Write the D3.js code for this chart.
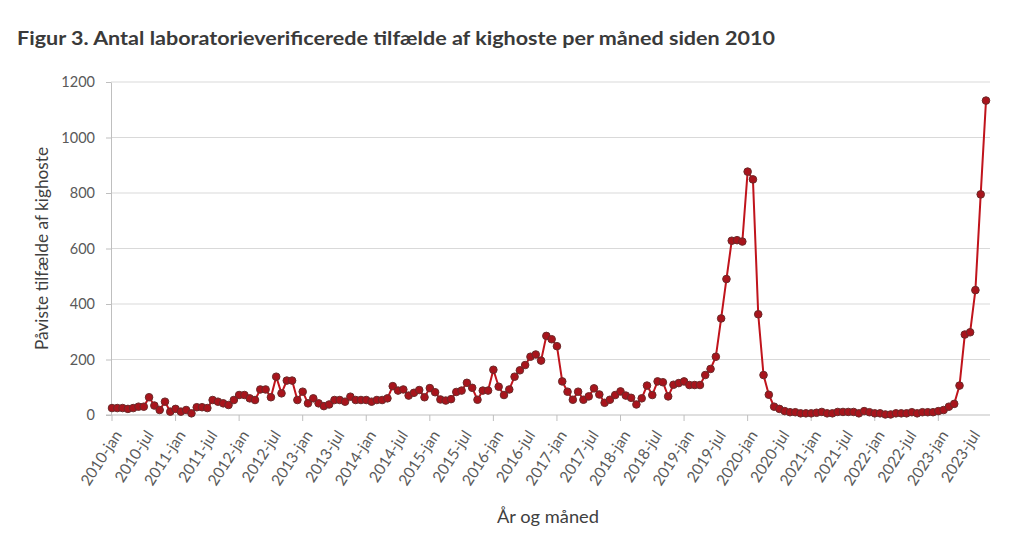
<!DOCTYPE html>
<html>
<head>
<meta charset="utf-8">
<script src="https://cdn.jsdelivr.net/npm/d3@7"></script>
<style>
  body { margin: 0; background: #fff; }
  svg text { font-family: Lato, "Open Sans", sans-serif; fill: #404040; }
</style>
</head>
<body>
<svg id="chart" width="1020" height="543"></svg>
<script>
// monthly counts, 2010-jan .. 2023-oct
const years = d3.range(2010, 2024);
const monthNames = ["jan","feb","mar","apr","maj","jun","jul","aug","sep","okt","nov","dec"];
const cases = [
  25, 25, 25, 22, 25, 30, 30, 64, 34, 18, 48, 12,        // 2010
  22, 12, 18, 6, 28, 28, 25, 54, 48, 42, 36, 54,         // 2011
  72, 72, 60, 54, 92, 92, 64, 138, 78, 124, 124, 54,     // 2012
  84, 42, 60, 42, 32, 38, 54, 54, 48, 66, 54, 54,        // 2013
  54, 48, 54, 54, 60, 104, 88, 92, 70, 80, 90, 64,       // 2014
  97, 82, 56, 52, 57, 83, 88, 116, 98, 55, 88, 88,       // 2015
  163, 102, 72, 92, 138, 161, 180, 210, 218, 196, 285, 273, // 2016
  248, 121, 84, 55, 84, 55, 67, 96, 74, 44, 55, 72,      // 2017
  85, 70, 62, 38, 60, 106, 72, 121, 118, 67, 109, 115,   // 2018
  121, 108, 108, 108, 144, 166, 210, 348, 490, 628, 630, 625, // 2019
  877, 849, 363, 144, 73, 30, 22, 14, 10, 10, 6, 6,      // 2020
  6, 8, 11, 6, 6, 11, 11, 11, 11, 6, 14, 10,             // 2021
  6, 6, 2, 2, 6, 6, 6, 10, 6, 10, 10, 10,                // 2022
  14, 18, 30, 40, 106, 290, 298, 450, 795, 1133          // 2023
];
const yTicks = [0, 200, 400, 600, 800, 1000, 1200];

const months = [];
years.forEach(y => monthNames.forEach(m => months.push(`${y}-${m}`)));
const data = cases.map((v, i) => ({ month: months[i], value: v }));

const svg = d3.select("#chart");
const margin = { left: 111, right: 986, top: 82, bottom: 415 };

const x = d3.scalePoint()
    .domain(data.map(d => d.month))
    .range([margin.left + 1, margin.right]);

const y = d3.scaleLinear()
    .domain([0, 1200])
    .range([margin.bottom, margin.top]);

// Title
svg.append("text")
    .attr("x", 17)
    .attr("y", 45)
    .attr("textLength", 758)
    .attr("lengthAdjust", "spacingAndGlyphs")
    .style("font-size", "19px")
    .style("font-weight", "bold")
    .style("fill", "#3a3a3a")
    .text("Figur 3. Antal laboratorieverificerede tilfælde af kighoste per måned siden 2010");

// Gridlines
svg.append("g")
    .selectAll("line")
    .data(yTicks.filter(t => t > 0))
    .enter()
    .append("line")
    .attr("x1", margin.left)
    .attr("x2", 990)
    .attr("y1", d => y(d))
    .attr("y2", d => y(d))
    .attr("stroke", "#d9d9d9")
    .attr("stroke-width", 1);

// Y axis
const yAxis = svg.append("g")
    .attr("transform", `translate(${margin.left},0)`)
    .call(d3.axisLeft(y).tickValues(yTicks).tickFormat(d3.format("d"))
        .tickSize(5).tickSizeOuter(0).tickPadding(11));
yAxis.select(".domain").attr("stroke", "#bfbfbf");
yAxis.selectAll(".tick line").attr("stroke", "#bfbfbf");
yAxis.selectAll(".tick text")
    .style("font-size", "14.5px")
    .style("fill", "#595959")
    .style("font-family", "Lato, sans-serif");

// X axis
svg.append("line")
    .attr("x1", margin.left - 5)
    .attr("x2", 990)
    .attr("y1", y(0))
    .attr("y2", y(0))
    .attr("stroke", "#bfbfbf");

const labelMonths = months.slice(0, cases.length).filter((m, i) => i % 6 === 0);
const tickMonths = months.slice(0, cases.length).filter((m, i) => i % 12 === 0);

svg.append("g")
    .selectAll("line")
    .data(tickMonths)
    .enter()
    .append("line")
    .attr("x1", d => x(d))
    .attr("x2", d => x(d))
    .attr("y1", y(0))
    .attr("y2", y(0) + 6)
    .attr("stroke", "#bfbfbf");

svg.append("g")
    .selectAll("text")
    .data(labelMonths)
    .enter()
    .append("text")
    .attr("transform", d => `translate(${x(d) + 6},${y(0) + 17}) rotate(-57)`)
    .attr("text-anchor", "end")
    .attr("dy", "0.35em")
    .style("font-size", "15.5px")
    .style("fill", "#595959")
    .text(d => d);

// Axis titles
svg.append("text")
    .attr("transform", `translate(48,${(margin.top + margin.bottom) / 2}) rotate(-90)`)
    .attr("text-anchor", "middle")
    .attr("textLength", 203)
    .attr("lengthAdjust", "spacingAndGlyphs")
    .style("font-size", "16.5px")
    .style("fill", "#404040")
    .text("Påviste tilfælde af kighoste");

svg.append("text")
    .attr("x", 548)
    .attr("y", 523)
    .attr("text-anchor", "middle")
    .attr("textLength", 102)
    .attr("lengthAdjust", "spacingAndGlyphs")
    .style("font-size", "16.5px")
    .style("fill", "#404040")
    .text("År og måned");

// Line
const line = d3.line()
    .x(d => x(d.month))
    .y(d => y(d.value));

svg.append("path")
    .datum(data)
    .attr("fill", "none")
    .attr("stroke", "#c0141c")
    .attr("stroke-width", 2)
    .attr("d", line);

svg.append("g")
    .selectAll("circle")
    .data(data)
    .enter()
    .append("circle")
    .attr("cx", d => x(d.month))
    .attr("cy", d => y(d.value))
    .attr("r", 3.8)
    .attr("fill", "#a8141c")
    .attr("stroke", "#6b2a2a")
    .attr("stroke-width", 1);
</script>
</body>
</html>
